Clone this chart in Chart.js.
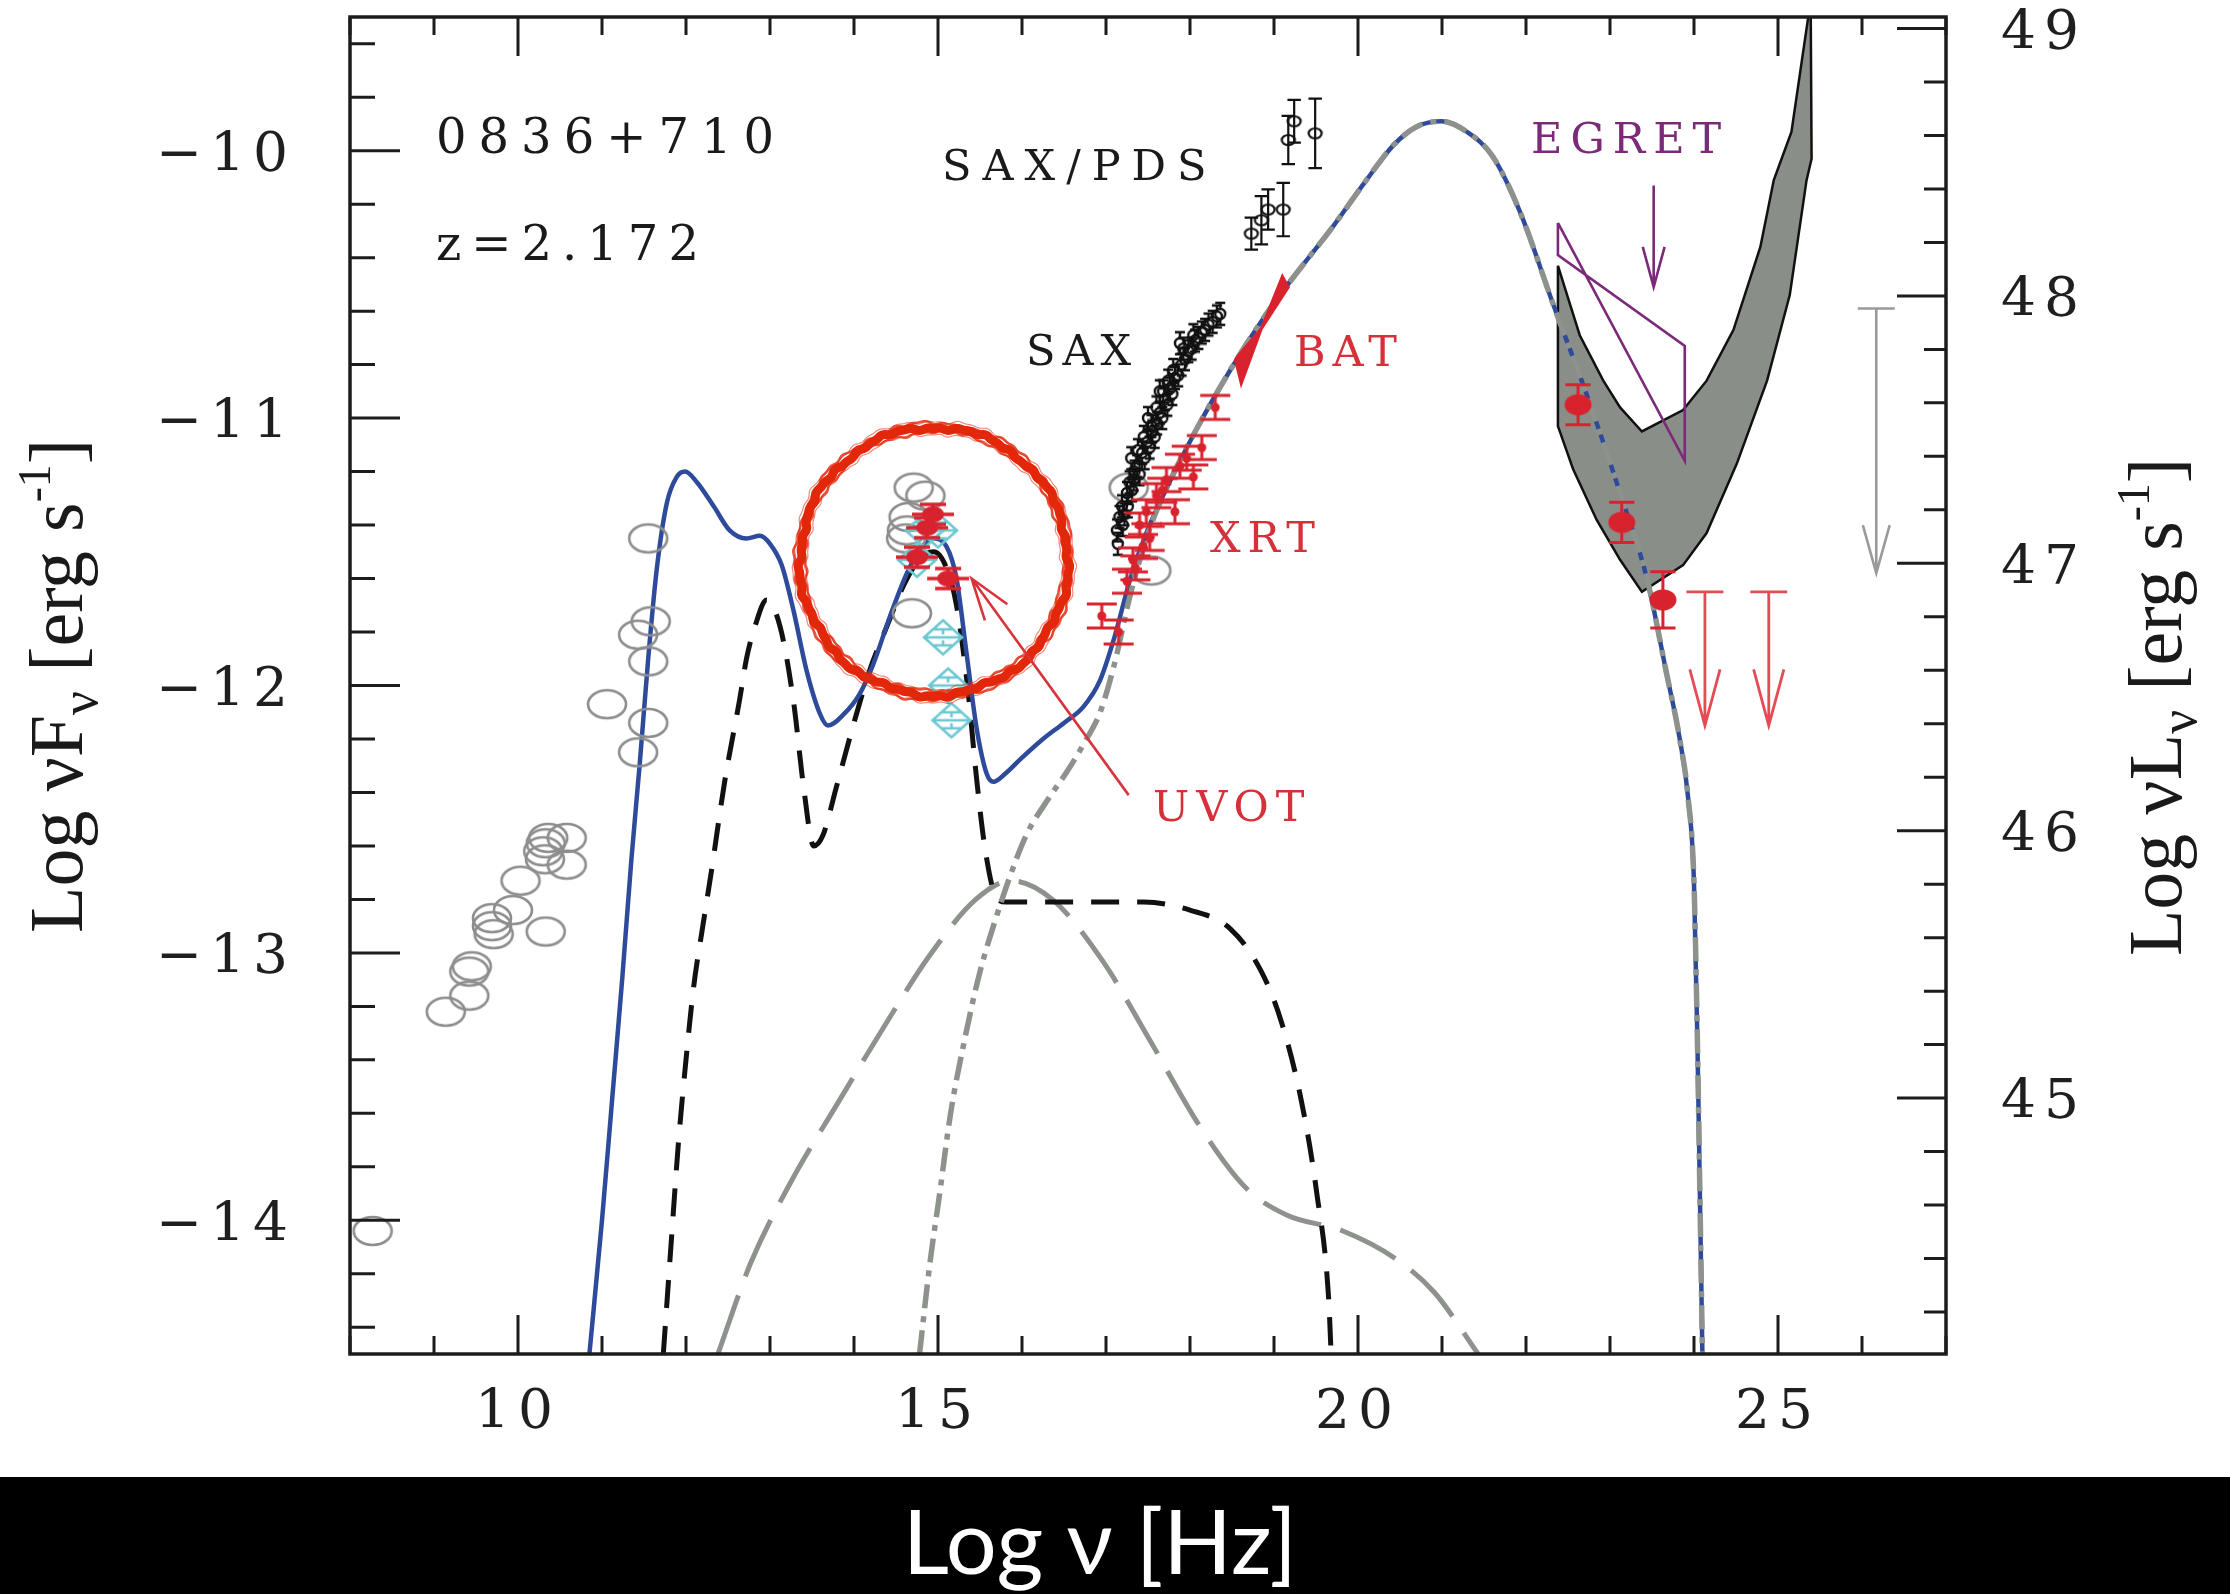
<!DOCTYPE html>
<html>
<head>
<meta charset="utf-8">
<title>0836+710 SED</title>
<script src="https://cdn.jsdelivr.net/npm/chart.js@4.4.1/dist/chart.umd.min.js"></script>
<style>
  html, body { margin: 0; padding: 0; background: #fff; overflow: hidden; }
  canvas { display: block; }
</style>
</head>
<body>
<canvas id="sed" width="2230" height="1594"></canvas>
<script>
// ---------- axes ----------
const xTicks = [10, 15, 20, 25];
const fluxTicks = [-14, -13, -12, -11, -10];
const lumTicks = [45, 46, 47, 48, 49];
const xRange = [8, 27];
const fluxRange = [-14.5, -9.5];
const lumShift = 58.543;            // log(4 pi d_L^2) at z = 2.172

// ---------- model curves: [log nu, log nuFnu] ----------
const totalModel = [
  [10.85,-14.5],[11.0,-14.0],[11.12,-13.55],[11.24,-13.1],[11.35,-12.65],[11.45,-12.29],
  [11.55,-11.9],[11.65,-11.57],[11.77,-11.32],[11.89,-11.22],[11.99,-11.2],[12.13,-11.24],
  [12.33,-11.33],[12.52,-11.42],[12.72,-11.45],[12.88,-11.44],[13.0,-11.47],[13.14,-11.55],
  [13.28,-11.72],[13.44,-11.95],[13.6,-12.11],[13.69,-12.15],[13.87,-12.11],[14.07,-12.03],
  [14.23,-11.92],[14.43,-11.74],[14.63,-11.58],[14.79,-11.49],[14.94,-11.45],[15.1,-11.48],
  [15.22,-11.6],[15.34,-11.88],[15.46,-12.16],[15.58,-12.33],[15.66,-12.36],[15.8,-12.33],
  [16.0,-12.27],[16.25,-12.2],[16.5,-12.14],[16.73,-12.08],[16.93,-11.98],[17.1,-11.82],
  [17.29,-11.6],[17.48,-11.43],[17.68,-11.29],[18.08,-11.04],[18.48,-10.82],[18.91,-10.61],
  [19.19,-10.49],[19.71,-10.28],[20.1,-10.11],[20.42,-9.98],[20.7,-9.91],[21.0,-9.89],
  [21.3,-9.93],[21.6,-10.02],[21.93,-10.23],[22.33,-10.58],[22.72,-10.91],[23.12,-11.28],
  [23.44,-11.6],[23.67,-11.95],[23.83,-12.2],[23.93,-12.42],[24.0,-12.74],[24.04,-13.32],
  [24.07,-13.9],[24.1,-14.5]
];
const diskTorusCorona = [
  [11.73,-14.5],[11.82,-14.1],[11.91,-13.71],[12.0,-13.4],[12.09,-13.13],[12.2,-12.9],
  [12.3,-12.7],[12.46,-12.36],[12.64,-12.05],[12.72,-11.9],[12.82,-11.78],[12.96,-11.68],
  [13.12,-11.78],[13.28,-12.06],[13.4,-12.38],[13.52,-12.6],[13.63,-12.56],[13.79,-12.38],
  [13.99,-12.15],[14.19,-11.94],[14.39,-11.78],[14.6,-11.62],[14.8,-11.52],[14.95,-11.5],
  [15.1,-11.56],[15.22,-11.7],[15.35,-12.0],[15.46,-12.35],[15.56,-12.61],[15.69,-12.79],
  [15.81,-12.81],[17.45,-12.81],[18.0,-12.84],[18.48,-12.91],[18.85,-13.07],[19.09,-13.26],
  [19.33,-13.56],[19.51,-13.9],[19.65,-14.29],[19.68,-14.5]
];
const sscModel = [
  [12.38,-14.5],[12.77,-14.16],[13.26,-13.85],[13.81,-13.56],[14.35,-13.28],[14.9,-13.01],
  [15.45,-12.8],[15.87,-12.73],[16.36,-12.8],[16.96,-13.03],[17.51,-13.32],[18.12,-13.65],
  [18.67,-13.88],[19.15,-13.98],[19.82,-14.04],[20.43,-14.14],[20.91,-14.27],[21.43,-14.5]
];
const ecModel = [
  [14.78,-14.5],[14.9,-14.17],[15.02,-13.9],[15.15,-13.6],[15.32,-13.32],[15.5,-13.07],
  [15.69,-12.87],[15.85,-12.72],[16.05,-12.56],[16.3,-12.43],[16.54,-12.32],[16.75,-12.21],
  [16.93,-12.1],[17.1,-11.92],[17.29,-11.66],[17.48,-11.45],[17.68,-11.29],[18.08,-11.04],
  [18.48,-10.82],[18.91,-10.61],[19.19,-10.49],[19.71,-10.28],[20.1,-10.11],[20.42,-9.98],
  [20.7,-9.91],[21.0,-9.89],[21.3,-9.93],[21.6,-10.02],[21.93,-10.23],[22.33,-10.58],
  [22.72,-10.91],[23.12,-11.28],[23.44,-11.6],[23.67,-11.95],[23.83,-12.2],[23.93,-12.42],
  [24.0,-12.74],[24.04,-13.32],[24.07,-13.9],[24.1,-14.5]
];

// ---------- data points ----------
const archival = [
  [8.27,-14.04],[9.14,-13.22],[9.42,-13.16],[9.42,-13.07],[9.45,-13.05],[9.69,-12.87],
  [9.69,-12.9],[9.71,-12.93],[9.94,-12.84],[10.03,-12.73],[10.33,-12.92],[10.3,-12.62],
  [10.33,-12.59],[10.36,-12.57],[10.32,-12.65],[10.58,-12.57],[10.58,-12.67],[11.06,-12.07],
  [11.43,-12.25],[11.55,-12.14],[11.55,-11.91],[11.43,-11.81],[11.58,-11.76],[11.55,-11.45],
  [14.71,-11.26],[14.85,-11.29],[14.65,-11.37],[14.63,-11.42],[14.62,-11.45],[14.69,-11.73],
  [17.27,-11.26],[17.54,-11.57]
];
const opticalUV = [
  [14.84,-11.42],[15.0,-11.42],[14.75,-11.53],[15.06,-11.82],[15.12,-12.0],[15.16,-12.13]
];
const uvot = [[14.94,-11.36],[14.87,-11.41],[14.75,-11.52],[15.12,-11.6]];
const xrt = [
  [16.95,-11.74],[17.15,-11.8],[17.25,-11.61],[17.32,-11.53],[17.35,-11.56],[17.4,-11.4],
  [17.44,-11.48],[17.48,-11.35],[17.52,-11.45],[17.6,-11.29],[17.67,-11.27],[17.72,-11.23],
  [17.82,-11.35],[17.88,-11.18],[17.96,-11.15],[18.04,-11.22],[18.14,-11.11],[18.3,-10.96]
];
const sax = [
  [17.13,-11.42],[17.14,-11.47],[17.16,-11.37],[17.19,-11.33],[17.2,-11.4],[17.22,-11.36],
  [17.25,-11.28],[17.26,-11.33],[17.28,-11.24],[17.3,-11.15],[17.31,-11.27],[17.33,-11.23],
  [17.34,-11.2],[17.37,-11.18],[17.38,-11.12],[17.4,-11.21],[17.43,-11.13],[17.45,-11.07],
  [17.46,-11.15],[17.49,-11.09],[17.5,-11.0],[17.52,-11.11],[17.54,-11.03],[17.55,-11.05],
  [17.58,-11.07],[17.6,-10.96],[17.61,-11.02],[17.64,-10.98],[17.64,-10.9],[17.67,-11.0],
  [17.68,-10.9],[17.7,-10.93],[17.73,-10.95],[17.74,-10.86],[17.76,-10.89],[17.79,-10.91],
  [17.8,-10.82],[17.82,-10.85],[17.86,-10.84],[17.88,-10.72],[17.9,-10.8],[17.92,-10.74],
  [17.94,-10.78],[17.98,-10.75],[18.02,-10.74],[18.04,-10.69],[18.06,-10.71],[18.1,-10.7],
  [18.14,-10.68],[18.18,-10.67],[18.22,-10.65],[18.27,-10.64],[18.32,-10.62],[18.36,-10.61]
];
// [log nu, log nuFnu, error]
const pds = [
  [18.73,-10.31,0.06],[18.85,-10.26,0.09],[18.93,-10.22,0.075],[19.11,-10.22,0.1],
  [19.17,-9.96,0.09],[19.24,-9.89,0.08],[19.49,-9.935,0.13]
];
const batBowtie = [
  [18.54,-10.78],[18.85,-10.665],[19.17,-10.51],[19.1,-10.47],[18.85,-10.665],[18.61,-10.87],[18.54,-10.78]
];
const lat = [[22.62,-10.95,0.075],[23.14,-11.39,0.075],[23.63,-11.68,0.105]];
const latUpperLimits = [[24.13,-11.65],[24.89,-11.65]];
const latButterfly = [
  [22.38,-10.43],[22.38,-11.03],[22.56,-11.19],[22.84,-11.38],[23.12,-11.53],[23.38,-11.65],
  [23.87,-11.55],[24.15,-11.43],[24.51,-11.17],[24.87,-10.86],[25.14,-10.54],[25.34,-10.11],
  [25.4,-10.03],[25.39,-9.5],[25.36,-9.5],[25.16,-9.93],[24.95,-10.11],[24.79,-10.36],
  [24.47,-10.67],[24.15,-10.86],[23.87,-10.97],[23.38,-11.05],[23.12,-10.96],[22.92,-10.86],
  [22.64,-10.69],[22.5,-10.55],[22.38,-10.43]
];
const egretBowtie = [[22.38,-10.27],[23.89,-11.16],[23.89,-10.73],[22.38,-10.39],[22.38,-10.27]];
const egretUpperLimit = [[23.52,-10.13]];
const tevUpperLimit = [[26.17,-10.59]];
const uvotRing = [14.952, -11.536];
const uvotPointer = [[17.27,-12.41],[15.4,-11.6]];

// ---------- helpers ----------
const toXY = a => a.map(([x, y]) => ({x, y}));

function errorBars(list, capHalf) {
  const out = [];
  for (const [x, y, e] of list) {
    out.push({x, y: y - e}, {x, y: y + e}, {x, y: null});
    out.push({x: x - capHalf, y: y + e}, {x: x + capHalf, y: y + e}, {x, y: null});
    out.push({x: x - capHalf, y: y - e}, {x: x + capHalf, y: y - e}, {x, y: null});
  }
  return out;
}
function arrows(list, len, capHalf, headHalf, headLen) {
  const out = [];
  for (const [x, y] of list) {
    if (capHalf) out.push({x: x - capHalf, y}, {x: x + capHalf, y}, {x, y: null});
    out.push({x, y}, {x, y: y - len}, {x, y: null});
    out.push({x: x - headHalf, y: y - len + headLen}, {x, y: y - len},
             {x: x + headHalf, y: y - len + headLen}, {x, y: null});
  }
  return out;
}
function marker(w, h, paint) {
  const c = document.createElement('canvas');
  c.width = w; c.height = h;
  const g = c.getContext('2d');
  paint(g, w / 2, h / 2);
  return c;
}
const RED = '#d8232e';
const GREY = '#8e928c';
const BLUE = '#2e4b9b';

const ringMarker = marker(44, 34, (g, cx, cy) => {
  g.strokeStyle = '#8d8d8d'; g.lineWidth = 2.6;
  g.beginPath(); g.ellipse(cx, cy, 19, 14, 0, 0, Math.PI * 2); g.stroke();
});
const diamondMarker = marker(46, 40, (g, cx, cy) => {
  g.strokeStyle = '#6ec8d1'; g.lineWidth = 2.6;
  g.beginPath();
  g.moveTo(cx, cy - 17); g.lineTo(cx + 19, cy); g.lineTo(cx, cy + 17); g.lineTo(cx - 19, cy); g.closePath();
  g.moveTo(cx - 19, cy); g.lineTo(cx + 19, cy);
  g.moveTo(cx - 9, cy - 8); g.lineTo(cx + 9, cy - 8);
  g.moveTo(cx - 9, cy + 8); g.lineTo(cx + 9, cy + 8);
  g.moveTo(cx, cy - 8); g.lineTo(cx, cy - 3);
  g.moveTo(cx, cy + 3); g.lineTo(cx, cy + 8);
  g.stroke();
});
const uvotMarker = marker(50, 30, (g, cx, cy) => {
  g.strokeStyle = RED; g.fillStyle = RED; g.lineWidth = 3.5;
  g.beginPath();
  g.moveTo(cx - 21, cy); g.lineTo(cx + 21, cy);
  g.moveTo(cx, cy - 10); g.lineTo(cx, cy + 10);
  g.moveTo(cx - 13, cy - 10); g.lineTo(cx + 13, cy - 10);
  g.moveTo(cx - 13, cy + 10); g.lineTo(cx + 13, cy + 10);
  g.stroke();
  g.beginPath(); g.ellipse(cx, cy, 11, 8, 0, 0, Math.PI * 2); g.fill();
});
const xrtMarker = marker(36, 30, (g, cx, cy) => {
  g.strokeStyle = RED; g.fillStyle = RED; g.lineWidth = 3;
  g.beginPath();
  g.moveTo(cx - 15, cy - 12); g.lineTo(cx + 15, cy - 12);
  g.moveTo(cx - 15, cy + 12); g.lineTo(cx + 15, cy + 12);
  g.moveTo(cx, cy - 12); g.lineTo(cx, cy + 12);
  g.stroke();
  g.beginPath(); g.arc(cx, cy, 4.5, 0, Math.PI * 2); g.fill();
});
const saxMarker = marker(18, 26, (g, cx, cy) => {
  g.strokeStyle = '#111'; g.lineWidth = 2.4;
  g.beginPath();
  g.moveTo(cx, cy - 11); g.lineTo(cx, cy - 5);
  g.moveTo(cx, cy + 5); g.lineTo(cx, cy + 11);
  g.moveTo(cx - 5, cy - 11); g.lineTo(cx + 5, cy - 11);
  g.moveTo(cx - 5, cy + 11); g.lineTo(cx + 5, cy + 11);
  g.stroke();
  g.beginPath(); g.arc(cx, cy, 5, 0, Math.PI * 2); g.stroke();
});
const pdsMarker = marker(18, 16, (g, cx, cy) => {
  g.strokeStyle = '#111'; g.lineWidth = 2.2;
  g.beginPath(); g.ellipse(cx, cy, 6.5, 5, 0, 0, Math.PI * 2); g.stroke();
});
const latMarker = marker(30, 24, (g, cx, cy) => {
  g.fillStyle = RED;
  g.beginPath(); g.ellipse(cx, cy, 13.5, 10.5, 0, 0, Math.PI * 2); g.fill();
});

function curve(data, color, width, dash, order) {
  return {data: toXY(data), showLine: true, borderColor: color, borderWidth: width,
          borderDash: dash, pointRadius: 0, cubicInterpolationMode: 'monotone',
          fill: false, order, borderCapStyle: 'butt'};
}
function points(data, style, order) {
  return {data: toXY(data), showLine: false, pointStyle: style, pointRadius: 4, order};
}
function segments(data, color, width, order) {
  return {data, showLine: true, borderColor: color, borderWidth: width, pointRadius: 0,
          tension: 0, fill: false, order, spanGaps: false};
}

const datasets = [
  {data: toXY(latButterfly), showLine: true, fill: 'shape', backgroundColor: '#8a8e88',
   borderColor: '#111', borderWidth: 2.5, pointRadius: 0, tension: 0, order: 100},
  curve(sscModel, GREY, 5, [62, 20], 90),
  curve(diskTorusCorona, '#111', 5, [28, 18], 85),
  curve(totalModel, BLUE, 4.5, [], 80),
  curve(ecModel, GREY, 5.5, [24, 8, 6, 8], 75),
  segments(toXY(egretBowtie), '#7a2a78', 2.6, 70),
  segments(arrows(egretUpperLimit, 0.38, 0, 0.13, 0.15), '#7a2a78', 2.6, 70),
  {data: toXY(batBowtie), showLine: true, fill: 'shape', backgroundColor: RED, borderColor: RED,
   borderWidth: 3, pointRadius: 0, tension: 0, order: 60},
  points(archival, ringMarker, 50),
  points(opticalUV, diamondMarker, 45),
  points(uvot, uvotMarker, 40),
  points(sax, saxMarker, 35),
  segments(errorBars(pds, 0.08), '#111', 2.2, 35),
  points(pds.map(p => [p[0], p[1]]), pdsMarker, 35),
  points(xrt, xrtMarker, 30),
  segments(errorBars(lat, 0.15), RED, 3, 20),
  points(lat.map(p => [p[0], p[1]]), latMarker, 20),
  segments(arrows(latUpperLimits, 0.5, 0.22, 0.18, 0.21), 'rgba(222,45,55,0.85)', 2.8, 20),
  segments(arrows(tevUpperLimit, 0.99, 0.22, 0.16, 0.18), '#9a9a9a', 2.6, 20)
];

// ---------- drawing extras: background band, frame, ticks, annotations, titles ----------
const SERIF = '"DejaVu Serif", "Liberation Serif", serif';

function drawRuns(ctx, runs, family, size, cx, cy, angle, color) {
  ctx.save();
  ctx.translate(cx, cy);
  ctx.rotate(angle);
  ctx.fillStyle = color;
  ctx.textBaseline = 'alphabetic';
  ctx.textAlign = 'left';
  ctx.letterSpacing = '0px';
  let total = 0;
  for (const r of runs) { ctx.font = `${size * (r.s || 1)}px ${family}`; total += ctx.measureText(r.t).width; }
  let x = -total / 2;
  for (const r of runs) {
    ctx.font = `${size * (r.s || 1)}px ${family}`;
    ctx.fillText(r.t, x, (r.dy || 0) * size);
    x += ctx.measureText(r.t).width;
  }
  ctx.restore();
}

const extras = {
  id: 'extras',
  beforeDraw(chart) {
    const ctx = chart.ctx;
    ctx.save();
    ctx.fillStyle = '#fff'; ctx.fillRect(0, 0, chart.width, chart.height);
    ctx.fillStyle = '#000'; ctx.fillRect(0, 1477, chart.width, chart.height - 1477);
    ctx.restore();
    ctx.letterSpacing = '8px';
  },
  afterDraw(chart) {
    const ctx = chart.ctx;
    const sx = chart.scales.x, sy = chart.scales.y, sy2 = chart.scales.y2;
    const {left, right, top, bottom} = chart.chartArea;
    const P = (x, y) => [sx.getPixelForValue(x), sy.getPixelForValue(y)];

    // hand-drawn ring around the UVOT points
    const [rcx, rcy] = P(uvotRing[0], uvotRing[1]);
    ctx.save();
    ctx.strokeStyle = '#e2270a';
    ctx.lineJoin = 'round';
    const passes = [[0, 9, 1], [4.5, 2.5, 0.8], [-4.5, 2.5, 0.8], [6.5, 1.2, 0.55], [-6.5, 1.2, 0.55]];
    for (const [dr, lw, a] of passes) {
      ctx.globalAlpha = a; ctx.lineWidth = lw; ctx.beginPath();
      for (let i = 0; i <= 720; i++) {
        const t = i * Math.PI / 360;
        const wob = 1.3 * Math.sin(9 * t + dr) + 0.9 * Math.sin(31 * t + 2 * dr) + 0.6 * Math.sin(57 * t);
        const rr = 134 + dr + wob;
        const px = rcx + rr * Math.cos(t), py = rcy + rr * Math.sin(t);
        if (i) ctx.lineTo(px, py); else ctx.moveTo(px, py);
      }
      ctx.stroke();
    }
    ctx.restore();

    // pointer from the UVOT label
    const [tx, ty] = P(uvotPointer[0][0], uvotPointer[0][1]);
    const [hx, hy] = P(uvotPointer[1][0], uvotPointer[1][1]);
    const ang = Math.atan2(ty - hy, tx - hx);
    ctx.save();
    ctx.strokeStyle = '#d8343c'; ctx.lineWidth = 2.6;
    ctx.beginPath();
    ctx.moveTo(tx, ty); ctx.lineTo(hx, hy);
    ctx.moveTo(hx + 44 * Math.cos(ang + 0.32), hy + 44 * Math.sin(ang + 0.32));
    ctx.lineTo(hx, hy);
    ctx.lineTo(hx + 44 * Math.cos(ang - 0.32), hy + 44 * Math.sin(ang - 0.32));
    ctx.stroke();
    ctx.restore();

    // labels inside the plot
    const notes = [
      ['0836+710', 9.024, -10.007, '#1a1a1a', 48, 12],
      ['z=2.172', 9.024, -10.407, '#1a1a1a', 48, 10],
      ['SAX/PDS', 15.048, -10.108, '#1a1a1a', 43, 11],
      ['SAX', 16.048, -10.8, '#1a1a1a', 43, 7],
      ['BAT', 19.238, -10.804, '#d6303a', 43, 7],
      ['XRT', 18.238, -11.499, '#d6303a', 43, 7],
      ['UVOT', 17.56, -12.505, '#d6303a', 43, 7],
      ['EGRET', 22.06, -10.007, '#7a2a78', 43, 8]
    ];
    ctx.save();
    ctx.textAlign = 'left'; ctx.textBaseline = 'alphabetic';
    for (const [t, x, y, c, s, ls] of notes) {
      const [px, py] = P(x, y);
      ctx.font = `${s}px ${SERIF}`;
      ctx.letterSpacing = ls + 'px';
      ctx.fillStyle = c;
      ctx.fillText(t, px, py);
    }
    ctx.restore();

    // frame and inward ticks
    ctx.save();
    ctx.strokeStyle = '#1c1c1c';
    ctx.lineWidth = 3;
    ctx.beginPath();
    for (let v = Math.ceil(xRange[0]); v <= xRange[1]; v++) {
      const px = sx.getPixelForValue(v);
      const len = v % 5 === 0 ? 39 : 18;
      ctx.moveTo(px, bottom); ctx.lineTo(px, bottom - len);
      ctx.moveTo(px, top); ctx.lineTo(px, top + len);
    }
    for (let k = Math.ceil(fluxRange[0] * 5); k <= Math.floor(fluxRange[1] * 5); k++) {
      const py = sy.getPixelForValue(k / 5);
      const len = k % 5 === 0 ? 50 : 25;
      ctx.moveTo(left, py); ctx.lineTo(left + len, py);
    }
    for (let k = Math.ceil((fluxRange[0] + lumShift) * 5); k <= Math.floor((fluxRange[1] + lumShift) * 5); k++) {
      const py = sy2.getPixelForValue(k / 5);
      const len = k % 5 === 0 ? 49 : 22;
      ctx.moveTo(right, py); ctx.lineTo(right - len, py);
    }
    ctx.stroke();
    ctx.lineWidth = 3.5;
    ctx.strokeRect(left, top, right - left, bottom - top);
    ctx.restore();

    // axis titles
    const titleSerif = '"Liberation Serif", "DejaVu Serif", serif';
    drawRuns(ctx, [{t: 'Log \u03bdF'}, {t: '\u03bd', s: 0.7, dy: 0.2}, {t: ' [erg s'},
                   {t: '-1', s: 0.6, dy: -0.42}, {t: ']'}], titleSerif, 76, 82, 686, -Math.PI / 2, '#1a1a1a');
    drawRuns(ctx, [{t: 'Log \u03bdL'}, {t: '\u03bd', s: 0.7, dy: 0.2}, {t: ' [erg s'},
                   {t: '-1', s: 0.6, dy: -0.42}, {t: ']'}], titleSerif, 76, 2181, 707, -Math.PI / 2, '#1a1a1a');
    drawRuns(ctx, [{t: 'Log \u03bd [Hz]'}], 'Lato, "Open Sans", sans-serif', 90, 1100, 1574, 0, '#ffffff');
  }
};

const tickFont = {family: SERIF, size: 55};
new Chart(document.getElementById('sed'), {
  type: 'scatter',
  data: {datasets},
  options: {
    responsive: false,
    devicePixelRatio: 1,
    animation: false,
    events: [],
    layout: {padding: {top: 17, left: 0, right: 0, bottom: 0}},
    plugins: {legend: {display: false}, tooltip: {enabled: false}, title: {display: false}},
    scales: {
      x: {
        type: 'linear', position: 'bottom', min: xRange[0], max: xRange[1],
        grid: {display: false}, border: {display: false},
        afterBuildTicks: s => { s.ticks = xTicks.map(v => ({value: v})); },
        afterFit: s => { s.height = 240; s.paddingLeft = 0; s.paddingRight = 0; },
        ticks: {autoSkip: false, maxRotation: 0, padding: 19, color: '#1f1f1f', font: tickFont,
                callback: v => String(v)}
      },
      y: {
        type: 'linear', position: 'left', min: fluxRange[0], max: fluxRange[1],
        grid: {display: false}, border: {display: false},
        afterBuildTicks: s => { s.ticks = fluxTicks.map(v => ({value: v})); },
        afterFit: s => { s.width = 350; s.paddingTop = 0; s.paddingBottom = 0; },
        ticks: {autoSkip: false, padding: 46, labelOffset: 6, color: '#1f1f1f', font: tickFont,
                callback: v => '\u2212' + Math.abs(v)}
      },
      y2: {
        type: 'linear', position: 'right', min: fluxRange[0] + lumShift, max: fluxRange[1] + lumShift,
        grid: {display: false}, border: {display: false},
        afterBuildTicks: s => { s.ticks = lumTicks.map(v => ({value: v})); },
        afterFit: s => { s.width = 284; s.paddingTop = 0; s.paddingBottom = 0; },
        ticks: {autoSkip: false, padding: 47, labelOffset: 6, color: '#1f1f1f', font: tickFont,
                callback: v => String(v)}
      }
    }
  },
  plugins: [extras]
});
</script>
</body>
</html>
